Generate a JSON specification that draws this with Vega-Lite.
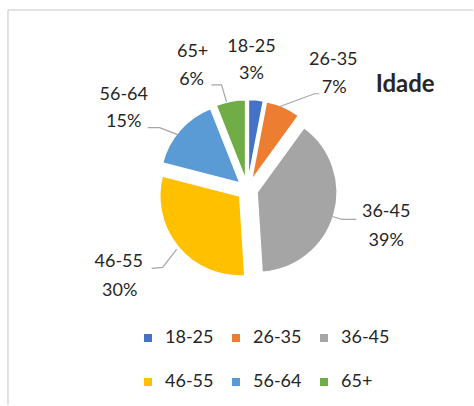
{
  "$schema": "https://vega.github.io/schema/vega-lite/v6.json",
  "width": 474,
  "height": 406,
  "padding": 0,
  "autosize": {"type": "fit", "contains": "padding"},
  "background": "white",
  "config": {"view": {"stroke": null}, "font": "Lato"},
  "datasets": {
    "slices": [
      {"age": "18-25", "pct": 3},
      {"age": "26-35", "pct": 7},
      {"age": "36-45", "pct": 39},
      {"age": "46-55", "pct": 30},
      {"age": "56-64", "pct": 15},
      {"age": "65+", "pct": 6}
    ],
    "labels": [
      {"t": "18-25", "x": 4, "y": 143},
      {"t": "3%", "x": 4, "y": 116},
      {"t": "26-35", "x": 86, "y": 130},
      {"t": "7%", "x": 87, "y": 102},
      {"t": "36-45", "x": 139, "y": -23},
      {"t": "39%", "x": 139, "y": -52},
      {"t": "46-55", "x": -129, "y": -73},
      {"t": "30%", "x": -128, "y": -102},
      {"t": "56-64", "x": -124, "y": 95},
      {"t": "15%", "x": -124, "y": 68},
      {"t": "65+", "x": -55, "y": 138},
      {"t": "6%", "x": -56, "y": 110}
    ],
    "leaders": [
      {"g": "65+", "i": 0, "x": -36, "y": 105},
      {"g": "65+", "i": 1, "x": -26, "y": 105},
      {"g": "65+", "i": 2, "x": -21, "y": 88},
      {"g": "26-35", "i": 0, "x": 32, "y": 83},
      {"g": "26-35", "i": 1, "x": 67, "y": 96},
      {"g": "26-35", "i": 2, "x": 72, "y": 96},
      {"g": "56-64", "i": 0, "x": -100, "y": 62},
      {"g": "56-64", "i": 1, "x": -88, "y": 62},
      {"g": "56-64", "i": 2, "x": -70, "y": 55},
      {"g": "36-45", "i": 0, "x": 85, "y": -27},
      {"g": "36-45", "i": 1, "x": 95, "y": -30},
      {"g": "36-45", "i": 2, "x": 109, "y": -30},
      {"g": "46-55", "i": 0, "x": -71, "y": -60},
      {"g": "46-55", "i": 1, "x": -85, "y": -78},
      {"g": "46-55", "i": 2, "x": -96, "y": -79}
    ]
  },
  "layer": [
    {
      "data": {"values": [{}]},
      "mark": {"type": "rule", "color": "#d9d9d9", "strokeWidth": 1.5},
      "encoding": {
        "x": {"datum": -240, "type": "quantitative", "scale": {"domain": [-248, 226], "nice": false, "zero": false}, "axis": null},
        "y": {"datum": 180, "type": "quantitative", "scale": {"domain": [-216, 190], "nice": false, "zero": false}, "axis": null},
        "y2": {"datum": -216}
      }
    },
    {
      "data": {"values": [{}]},
      "mark": {"type": "rule", "color": "#d9d9d9", "strokeWidth": 1.5},
      "encoding": {
        "x": {"datum": -240, "type": "quantitative"},
        "x2": {"datum": 226},
        "y": {"datum": 180, "type": "quantitative"}
      }
    },
    {
      "data": {"name": "slices"},
      "mark": {
        "type": "arc",
        "outerRadius": 80,
        "stroke": "white",
        "strokeWidth": 1.5,
        "xOffset": {"expr": "10*sin(PI*(datum.pct_start+datum.pct_end)/100)"},
        "yOffset": {"expr": "-10*cos(PI*(datum.pct_start+datum.pct_end)/100)"}
      },
      "encoding": {
        "theta": {"field": "pct", "type": "quantitative"},
        "color": {
          "field": "age",
          "type": "nominal",
          "scale": {
            "domain": ["18-25", "26-35", "36-45", "46-55", "56-64", "65+"],
            "range": ["#4472C4", "#ED7D31", "#A5A5A5", "#FFC000", "#5B9BD5", "#70AD47"]
          },
          "legend": {
            "orient": "none",
            "direction": "horizontal",
            "legendX": 139,
            "legendY": 329,
            "columns": 3,
            "title": null,
            "symbolType": "square",
            "symbolSize": 64,
            "symbolStrokeWidth": 0,
            "labelFontSize": 18,
            "labelFont": "Lato",
            "labelColor": "#262626",
            "labelOffset": 8,
            "columnPadding": 13,
            "rowPadding": 26,
            "padding": 0
          }
        },
        "x": {"datum": 0, "type": "quantitative"},
        "y": {"datum": 0, "type": "quantitative"}
      }
    },
    {
      "data": {"name": "leaders"},
      "mark": {"type": "line", "color": "#a6a6a6", "strokeWidth": 1.2},
      "encoding": {
        "x": {"field": "x", "type": "quantitative"},
        "y": {"field": "y", "type": "quantitative"},
        "detail": {"field": "g"},
        "order": {"field": "i"}
      }
    },
    {
      "data": {"name": "labels"},
      "mark": {"type": "text", "fontSize": 18, "color": "#262626", "align": "center", "baseline": "middle"},
      "encoding": {
        "x": {"field": "x", "type": "quantitative"},
        "y": {"field": "y", "type": "quantitative"},
        "text": {"field": "t"}
      }
    },
    {
      "data": {"values": [{"t": "Idade", "x": 158, "y": 105}]},
      "mark": {"type": "text", "fontSize": 24, "fontWeight": "bold", "color": "#262626", "align": "center", "baseline": "middle"},
      "encoding": {
        "x": {"field": "x", "type": "quantitative"},
        "y": {"field": "y", "type": "quantitative"},
        "text": {"field": "t"}
      }
    }
  ]
}
